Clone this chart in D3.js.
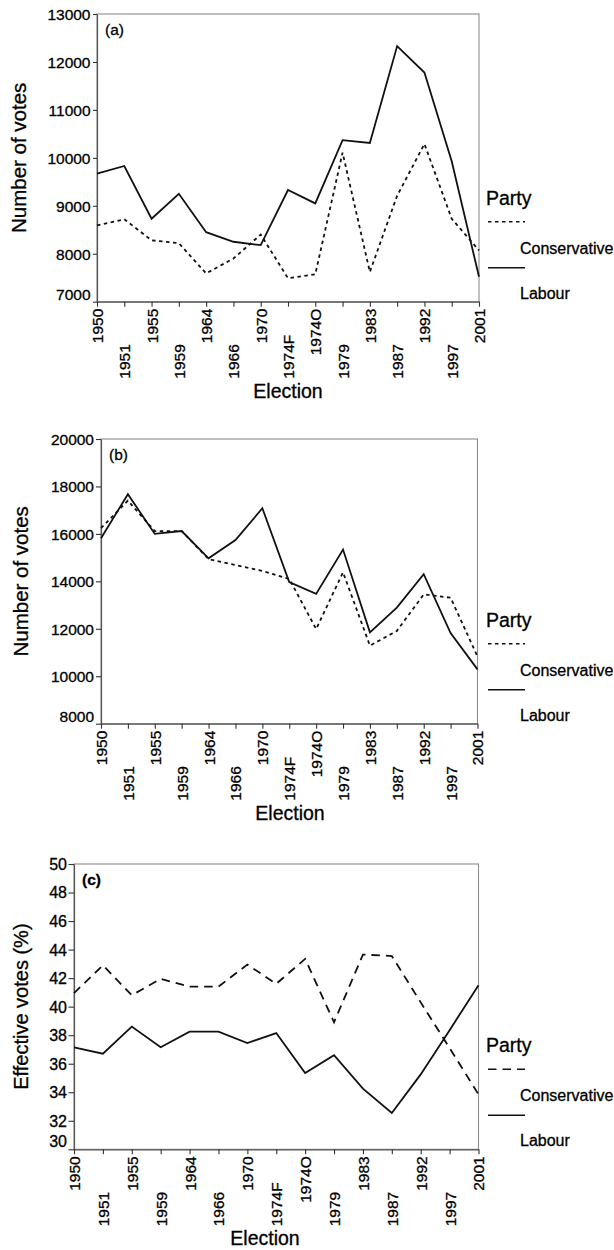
<!DOCTYPE html>
<html>
<head>
<meta charset="utf-8">
<script src="https://cdn.jsdelivr.net/npm/d3@7"></script>
<style>
  html, body { margin: 0; padding: 0; background: #fff; }
  svg { display: block; }
  svg text { font-family: "Liberation Sans", Arial, Helvetica, sans-serif; fill: #000; stroke: #000; stroke-width: 0.3px; }
</style>
</head>
<body>
<svg id="chart" width="614" height="1250"></svg>
<script>
// Election categories shared by the three panels
const categories = ["1950","1951","1955","1959","1964","1966","1970","1974F","1974O","1979","1983","1987","1992","1997","2001"];

// (a) number of votes
const conservativeA = [8590, 8720, 8280, 8220, 7590, 7900, 8400, 7490, 7570, 10110, 7620, 9210, 10290, 8730, 8070];
const labourA       = [9670, 9830, 8730, 9250, 8450, 8250, 8180, 9330, 9050, 10370, 10310, 12330, 11780, 9930, 7520];
const ticksA = [7000, 8000, 9000, 10000, 11000, 12000, 13000];

// (b) number of votes
const conservativeB = [16240, 17400, 16120, 16120, 14940, 14690, 14440, 14100, 11990, 14380, 11290, 11910, 13450, 13310, 10830];
const labourB       = [15820, 17670, 16000, 16120, 14970, 15740, 17080, 13970, 13470, 15340, 11850, 12890, 14300, 11820, 10290];
const ticksB = [8000, 10000, 12000, 14000, 16000, 18000, 20000];

// (c) effective votes (%)
const conservativeC = [40.95, 42.9, 40.8, 41.95, 41.4, 41.4, 42.95, 41.6, 43.35, 38.9, 43.65, 43.55, 40.3, 37.1, 33.85];
const labourC       = [37.15, 36.7, 38.6, 37.15, 38.25, 38.25, 37.45, 38.15, 35.35, 36.6, 34.25, 32.55, 35.25, 38.35, 41.5];
const ticksC = [30, 32, 34, 36, 38, 40, 42, 44, 46, 48, 50];

const partyNames = ["Conservative", "Labour"];

const svg = d3.select("#chart");

function drawPanel(cfg) {
  const g = svg.append("g");
  const x = d3.scalePoint().domain(categories).range([cfg.left, cfg.right]);
  const y = d3.scaleLinear().domain(cfg.domain).range([cfg.bottom, cfg.top]);

  // plot frame
  g.append("rect")
    .attr("x", cfg.left).attr("y", cfg.top)
    .attr("width", cfg.right - cfg.left).attr("height", cfg.bottom - cfg.top)
    .attr("fill", "none").attr("stroke", "#8c8c8c").attr("stroke-width", 1.1);

  // y axis
  const yAxis = g.append("g")
    .attr("transform", `translate(${cfg.left},0)`)
    .call(d3.axisLeft(y).tickValues(cfg.ticks).tickSize(cfg.yTick).tickPadding(cfg.yPad).tickSizeOuter(0).tickFormat(d3.format("d")));
  yAxis.attr("font-family", null);
  yAxis.select(".domain").attr("stroke", "#555").attr("stroke-width", 1.2);
  yAxis.selectAll(".tick line").attr("stroke", "#333").attr("stroke-width", 1.1);
  yAxis.selectAll(".tick text")
    .style("font-size", cfg.tickFont + "px")
    .attr("dy", d => d === cfg.domain[0] ? "-0.15em" : "0.34em");

  // x axis
  const xAxis = g.append("g")
    .attr("transform", `translate(0,${cfg.bottom})`)
    .call(d3.axisBottom(x).tickSize(5).tickSizeOuter(0));
  xAxis.attr("font-family", null);
  xAxis.select(".domain").attr("stroke", "#555").attr("stroke-width", 1.2);
  xAxis.selectAll(".tick line").attr("stroke", "#333").attr("stroke-width", 1.1);
  xAxis.selectAll(".tick text")
    .style("font-size", "15.5px")
    .attr("y", null).attr("dy", "0.35em")
    .attr("text-anchor", (d, i) => i % 2 === 0 ? "end" : "start")
    .attr("transform", (d, i) => i % 2 === 0 ? "translate(0,7) rotate(-90)" : "translate(0,77) rotate(-90)");

  // x axis title
  g.append("text")
    .attr("x", cfg.xTitleX).attr("y", cfg.bottom + 96)
    .attr("text-anchor", "middle")
    .style("font-size", "19.5px")
    .text("Election");

  // y axis title
  g.append("text")
    .attr("transform", `translate(${cfg.yTitleX},${(cfg.top + cfg.bottom) / 2}) rotate(-90)`)
    .attr("text-anchor", "middle")
    .style("font-size", cfg.yTitleFont + "px")
    .text(cfg.yTitle);

  // panel tag
  g.append("text")
    .attr("x", cfg.left + 8).attr("y", cfg.top + 20.5)
    .style("font-size", "15.5px")
    .style("font-weight", cfg.tagBold ? "bold" : "normal")
    .text(cfg.tag);

  // series lines
  const line = d3.line().x((d, i) => x(categories[i])).y(d => y(d));
  g.append("path").datum(cfg.con)
    .attr("d", line).attr("fill", "none")
    .attr("stroke", "#111").attr("stroke-width", 1.8)
    .attr("stroke-dasharray", cfg.dash);
  g.append("path").datum(cfg.lab)
    .attr("d", line).attr("fill", "none")
    .attr("stroke", "#111").attr("stroke-width", 1.8);

  // legend
  const lg = g.append("g");
  lg.append("text").attr("x", 486).attr("y", cfg.bottom - 97)
    .style("font-size", "19.5px").text("Party");
  lg.append("line").attr("x1", 488).attr("x2", 525)
    .attr("y1", cfg.bottom - 80).attr("y2", cfg.bottom - 80)
    .attr("stroke", "#111").attr("stroke-width", 1.6).attr("stroke-dasharray", cfg.dash);
  lg.append("text").attr("x", 520).attr("y", cfg.bottom - 48)
    .style("font-size", "16px").text(partyNames[0]);
  lg.append("line").attr("x1", 488).attr("x2", 525)
    .attr("y1", cfg.bottom - 34).attr("y2", cfg.bottom - 34)
    .attr("stroke", "#111").attr("stroke-width", 1.6);
  lg.append("text").attr("x", 520).attr("y", cfg.bottom - 3)
    .style("font-size", "16px").text(partyNames[1]);
}

drawPanel({
  left: 97, right: 479, top: 14, bottom: 301.7,
  domain: [7000, 13000], ticks: ticksA, yTick: 4, yPad: 2.5, tickFont: 15.5,
  con: conservativeA, lab: labourA, dash: "3.5,3.5",
  tag: "(a)", tagBold: false,
  yTitle: "Number of votes", yTitleX: 26, yTitleFont: 20.5, xTitleX: 288
});

drawPanel({
  left: 101, right: 477.5, top: 439, bottom: 723.7,
  domain: [8000, 20000], ticks: ticksB, yTick: 5, yPad: 2, tickFont: 15.5,
  con: conservativeB, lab: labourB, dash: "3.5,3.5",
  tag: "(b)", tagBold: false,
  yTitle: "Number of votes", yTitleX: 28, yTitleFont: 20.5, xTitleX: 290
});

drawPanel({
  left: 74, right: 478.5, top: 864, bottom: 1149.3,
  domain: [30, 50], ticks: ticksC, yTick: 5.5, yPad: 1.5, tickFont: 16,
  con: conservativeC, lab: labourC, dash: "8.5,6",
  tag: "(c)", tagBold: true,
  yTitle: "Effective votes (%)", yTitleX: 28, yTitleFont: 20, xTitleX: 265
});
</script>
</body>
</html>
